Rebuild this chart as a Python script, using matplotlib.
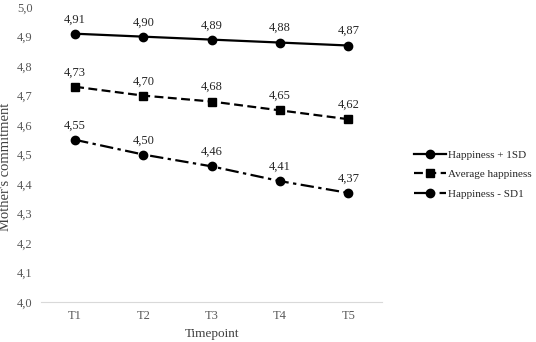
import numpy as np
import matplotlib.pyplot as plt

timepoints = ["T1", "T2", "T3", "T4", "T5"]
high = [4.91, 4.90, 4.89, 4.88, 4.87]
avg = [4.73, 4.70, 4.68, 4.65, 4.62]
low = [4.55, 4.50, 4.46, 4.41, 4.37]
names = ["Happiness + 1SD", "Average happiness", "Happiness - SD1"]

plt.rcParams['font.family'] = ['Liberation Serif', 'DejaVu Serif']

fig = plt.figure(figsize=(5.36, 3.42), dpi=100)
ax = fig.add_axes([0.0765, 0.117, 0.637, 0.862])

x = np.arange(len(timepoints))
styles = [('-', 'o'), ((0, (4, 2)), 's'), ((0, (6, 2, 1.5, 2)), 'o')]
for vals, name, (ls, mk) in zip([high, avg, low], names, styles):
    ax.plot(x, vals, color='black', linestyle=ls, marker=mk, markersize=6,
            linewidth=1.6, label=name)
    for xi, v in zip(x, vals):
        ax.annotate(f"{v:.2f}".replace('.', ','), (xi, v), xytext=(0, 6),
                    textcoords='offset points', ha='center', va='bottom',
                    fontsize=9, color='#262626')

ax.set_xlim(-0.5, 4.5)
ax.set_ylim(4.0, 5.0)
ticks = np.arange(4.0, 5.01, 0.1)
ax.set_yticks(ticks)
ax.set_yticklabels([f"{t:.1f}".replace('.', ',') for t in ticks])
ax.set_xticks(x)
ax.set_xticklabels(timepoints)
ax.tick_params(length=0, labelsize=9, colors='#595959', pad=6)
for s in ['top', 'right', 'left']:
    ax.spines[s].set_visible(False)
ax.spines['bottom'].set_color('#d9d9d9')
ax.set_xlabel("Timepoint", fontsize=9.5, color='#404040', labelpad=4)
ax.set_ylabel("Mother's commitment", fontsize=10.5, color='#404040')
ax.yaxis.set_label_coords(-0.086, 0.46)

fig.legend(loc='center left', bbox_to_anchor=(0.765, 0.49), frameon=False,
           fontsize=8, handlelength=2.8, handletextpad=0.2, labelspacing=0.85,
           borderaxespad=0, labelcolor='#262626')

fig.savefig("out.png", dpi=100)
